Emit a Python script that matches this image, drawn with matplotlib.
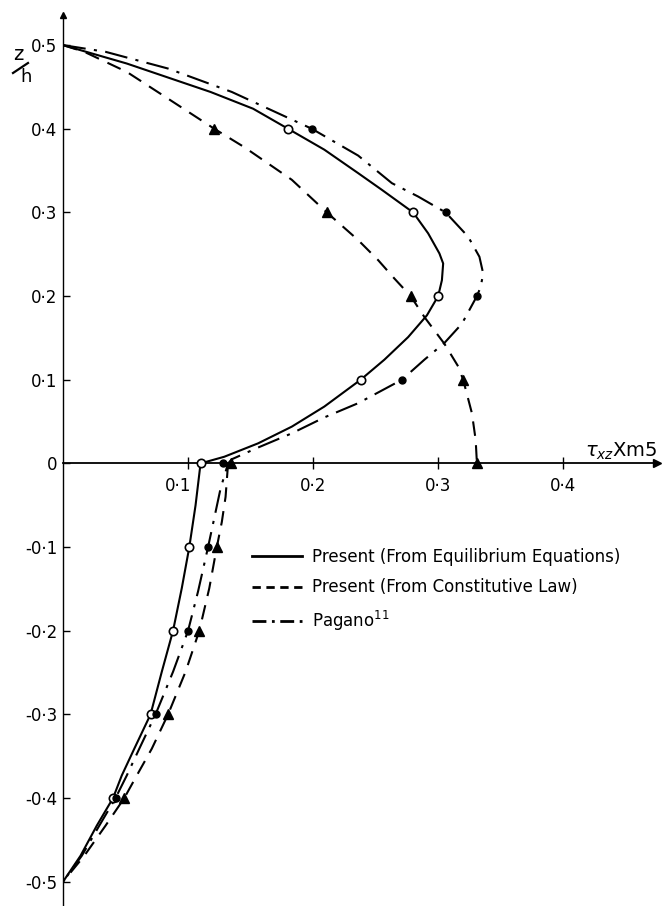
import numpy as np
import matplotlib
matplotlib.use("Agg")
import matplotlib.pyplot as plt
import matplotlib.transforms as mtransforms
from matplotlib.lines import Line2D

# curves (z/h, tau_xz)
eq_z = [0.5, 0.478, 0.444, 0.424, 0.4, 0.375, 0.347, 0.327, 0.3, 0.275, 0.251, 0.239, 0.219, 0.2,
        0.177, 0.151, 0.124, 0.1, 0.068, 0.044, 0.024, 0.008, 0.0,
        -0.05, -0.1, -0.149, -0.2, -0.249, -0.3, -0.341, -0.373, -0.4, -0.433, -0.469, -0.5]
eq_x = [0.0, 0.051, 0.118, 0.152, 0.180, 0.209, 0.236, 0.255, 0.280, 0.292, 0.301, 0.304, 0.303, 0.300,
        0.291, 0.276, 0.257, 0.238, 0.209, 0.183, 0.156, 0.129, 0.110,
        0.106, 0.101, 0.095, 0.088, 0.079, 0.070, 0.057, 0.047, 0.040, 0.027, 0.014, 0.0]

con_up_z = [0.5, 0.492, 0.468, 0.436, 0.4, 0.378, 0.339, 0.3, 0.267, 0.243, 0.221, 0.2, 0.175, 0.143, 0.116,
            0.1, 0.06, 0.028, 0.0]
con_up_x = [0.0, 0.017, 0.051, 0.084, 0.121, 0.145, 0.183, 0.211, 0.236, 0.252, 0.265, 0.278, 0.289, 0.305, 0.316,
            0.320, 0.327, 0.330, 0.331]
con_lo_z = [0.0, -0.04, -0.07, -0.1, -0.149, -0.2, -0.249, -0.3, -0.341, -0.373, -0.4, -0.433, -0.469, -0.5]
con_lo_x = [0.132, 0.130, 0.127, 0.123, 0.117, 0.109, 0.098, 0.084, 0.071, 0.059, 0.049, 0.034, 0.017, 0.0]

pag_z = [0.5, 0.492, 0.472, 0.444, 0.4, 0.368, 0.335, 0.319, 0.3, 0.271, 0.247, 0.227, 0.211, 0.2,
         0.167, 0.144, 0.124, 0.1, 0.072, 0.055, 0.036, 0.019, 0.005, 0.0,
         -0.03, -0.065, -0.1, -0.153, -0.2, -0.249, -0.3, -0.341, -0.373, -0.4, -0.433, -0.469, -0.5]
pag_x = [0.0, 0.034, 0.084, 0.135, 0.199, 0.236, 0.263, 0.284, 0.306, 0.324, 0.333, 0.336, 0.334, 0.331,
         0.319, 0.305, 0.289, 0.271, 0.236, 0.209, 0.183, 0.156, 0.135, 0.132,
         0.126, 0.121, 0.116, 0.108, 0.100, 0.088, 0.074, 0.061, 0.051, 0.042, 0.029, 0.015, 0.0]

# marker points
mk_z = [0.4, 0.3, 0.2, 0.1, 0.0, -0.1, -0.2, -0.3, -0.4]
eq_mk = [0.180, 0.280, 0.300, 0.238, 0.110, 0.101, 0.088, 0.070, 0.040]
pag_mk = [0.199, 0.306, 0.331, 0.271, 0.128, 0.116, 0.100, 0.074, 0.042]
con_mk_z = [0.4, 0.3, 0.2, 0.1, 0.0, 0.0, -0.1, -0.2, -0.3, -0.4]
con_mk = [0.121, 0.211, 0.278, 0.320, 0.331, 0.134, 0.123, 0.109, 0.084, 0.049]

xticks = [0.1, 0.2, 0.3, 0.4]
xtick_labels = ["0·1", "0·2", "0·3", "0·4"]
yticks = [0.5, 0.4, 0.3, 0.2, 0.1, 0.0, -0.1, -0.2, -0.3, -0.4, -0.5]
ytick_labels = ["0·5", "0·4", "0·3", "0·2", "0·1", "0", "-0·1", "-0·2", "-0·3", "-0·4", "-0·5"]

fig = plt.figure(figsize=(6.63, 9.06), dpi=100)
ax = fig.add_axes([63 / 663, 0, (657 - 63) / 663, (906 - 15) / 906])
ax.set_xlim(0, 0.475)
ax.set_ylim(-0.529, 0.536)

lw = 1.5
dash = (0, (7, 4.5))
dashdot = (0, (11, 4, 1.5, 4))

ax.plot(eq_x, eq_z, color="k", lw=lw)
ax.plot(con_up_x, con_up_z, color="k", lw=lw, linestyle=dash)
ax.plot(con_lo_x, con_lo_z, color="k", lw=lw, linestyle=dash)
ax.plot(pag_x, pag_z, color="k", lw=lw, linestyle=dashdot)

ax.plot(eq_mk, mk_z, "o", ms=6, mfc="white", mec="k", mew=1.2, zorder=5)
ax.plot(pag_mk, mk_z, "o", ms=5, color="k", zorder=5)
ax.plot(con_mk, con_mk_z, "^", ms=7, color="k", zorder=5)

for s in ["top", "right"]:
    ax.spines[s].set_visible(False)
ax.spines["left"].set_position(("data", 0))
ax.spines["bottom"].set_position(("data", 0))
ax.spines["left"].set_linewidth(1.0)
ax.spines["bottom"].set_linewidth(1.3)
ax.plot(1, 0, ">k", ms=6, transform=ax.get_yaxis_transform(), clip_on=False)
ax.plot(0, 1, "^k", ms=5, transform=ax.get_xaxis_transform(), clip_on=False)

ax.set_xticks(xticks)
ax.set_xticklabels(xtick_labels)
ax.set_yticks(yticks)
ax.set_yticklabels(ytick_labels)
ax.tick_params(axis="x", direction="inout", length=9, width=1, pad=5, labelsize=12)
ax.tick_params(axis="y", direction="in", length=5, width=1, pad=4, labelsize=12)
# first x label sits left of its tick in the original
lab0 = ax.get_xticklabels()[0]
lab0.set_transform(lab0.get_transform() + mtransforms.ScaledTranslation(-10 / 100, 0, fig.dpi_scale_trans))

ax.text(0.4176, 0.008, r"$\tau_{xz}$Xm5", fontsize=14, va="baseline", ha="left")

# z/h axis label: z over a slanted bar over h
fig.text(18 / 663, 1 - 55 / 906, "z", fontsize=14, ha="center", va="center")
fig.text(26 / 663, 1 - 77 / 906, "h", fontsize=13, ha="center", va="center")
fig.add_artist(Line2D([13 / 663, 28 / 663], [1 - 73 / 906, 1 - 63 / 906], color="k", lw=1.6))

handles = [Line2D([], [], color="k", lw=2),
           Line2D([], [], color="k", lw=2, linestyle=(0, (3, 2))),
           Line2D([], [], color="k", lw=2, linestyle=(0, (5, 2, 1, 2)))]
labels = ["Present (From Equilibrium Equations)", "Present (From Constitutive Law)", "Pagano$^{11}$"]
ax.legend(handles, labels, loc="upper left", bbox_to_anchor=(252 / 663, 1 - 548 / 906),
          bbox_transform=fig.transFigure, frameon=False, fontsize=12, handlelength=3.0,
          handletextpad=0.6, labelspacing=0.75, borderpad=0, borderaxespad=0)

fig.savefig("out.png", dpi=100)
